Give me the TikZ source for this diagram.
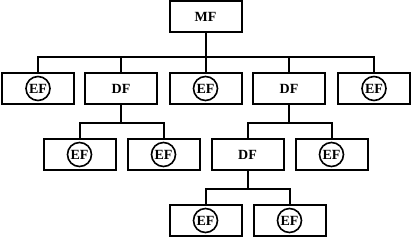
\documentclass[tikz,border=0pt]{standalone}
\usepackage{fontspec}
\setmainfont{Liberation Serif}
\begin{document}
\begin{tikzpicture}[x=.5pt,y=-.5pt,line width=1pt,
  every node/.style={font=\fontsize{7}{8}\bfseries,inner sep=0pt},
  box/.style={draw,minimum width=36pt,minimum height=15.5pt},
  efbox/.style={box,label={[draw,circle,line width=.8pt,minimum size=12pt,inner sep=0pt]center:EF}}]
  \path[use as bounding box] (0,0) rectangle (412,237);
  \node[box] (mf) at (205.5,16.5) {MF};
  \node[efbox] (e1) at (38,88.5) {};
  \node[box] (d1) at (121,88.5) {DF};
  \node[efbox] (e2) at (205.5,88.5) {};
  \node[box] (d2) at (289,88.5) {DF};
  \node[efbox] (e3) at (374,88.5) {};
  \node[efbox] (e4) at (79.5,154.5) {};
  \node[efbox] (e5) at (163.5,154.5) {};
  \node[box] (d3) at (247.5,154.5) {DF};
  \node[efbox] (e6) at (331.5,154.5) {};
  \node[efbox] (e7) at (205.5,220.5) {};
  \node[efbox] (e8) at (289.5,220.5) {};
  \foreach \c in {e1,d1,e2,d2,e3}
    \draw (mf.south) -- ++(0,24) -| (\c.north);
  \foreach \c in {e4,e5}
    \draw (d1.south) -- ++(0,18) -| (\c.north);
  \foreach \c in {d3,e6}
    \draw (d2.south) -- ++(0,18) -| (\c.north);
  \foreach \c in {e7,e8}
    \draw (d3.south) -- ++(0,18) -| (\c.north);
\end{tikzpicture}
\end{document}
